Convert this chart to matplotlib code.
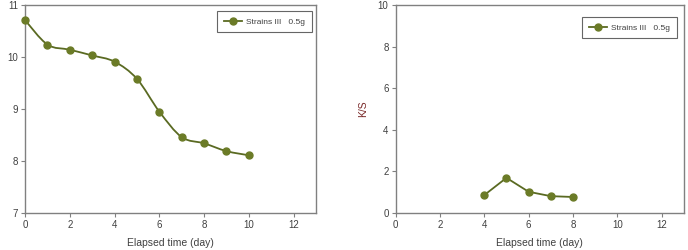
import numpy as np
import matplotlib
matplotlib.use("Agg")
import matplotlib.pyplot as plt
from matplotlib.path import Path
from matplotlib.patches import PathPatch
from matplotlib.lines import Line2D

# Data
days_left = [0, 1, 2, 3, 4, 5, 6, 7, 8, 9, 10]
values_left = [10.71, 10.24, 10.14, 10.03, 9.91, 9.58, 8.95, 8.46, 8.34, 8.19, 8.11]
days_right = [4, 5, 6, 7, 8]
values_right = [0.86, 1.69, 1.02, 0.81, 0.77]
series_label = "Strains III   0.5g"
x_ticks = [0, 2, 4, 6, 8, 10, 12]
left_yticks = [7, 8, 9, 10, 11]
right_yticks = [0, 2, 4, 6, 8, 10]
xlabel = "Elapsed time (day)"
right_ylabel = "K/S"

marker_col = "#6b7b27"
line_col = "#5a6a22"
spine_col = "#808080"
text_col = "#404040"

plt.rcParams['font.family'] = ['Liberation Sans', 'DejaVu Sans']

fig = plt.figure(figsize=(6.88, 2.5), dpi=100)
axL = fig.add_axes([25/688, 1-213/250, (316-25)/688, 208/250])
axR = fig.add_axes([395.5/688, 1-213/250, (684-395.5)/688, 208/250])


def smooth_path(xs, ys, t=0.5):
    xs = np.asarray(xs, float); ys = np.asarray(ys, float)
    n = len(xs)
    verts = [(xs[0], ys[0])]
    codes = [Path.MOVETO]
    for i in range(n - 1):
        p0 = np.array([xs[max(i-1, 0)], ys[max(i-1, 0)]])
        p1 = np.array([xs[i], ys[i]])
        p2 = np.array([xs[i+1], ys[i+1]])
        p3 = np.array([xs[min(i+2, n-1)], ys[min(i+2, n-1)]])
        c1 = p1 + (p2 - p0) * t / 3
        c2 = p2 - (p3 - p1) * t / 3
        verts += [tuple(c1), tuple(c2), tuple(p2)]
        codes += [Path.CURVE4] * 3
    return Path(verts, codes)


def style(ax, yticks, ylim):
    ax.set_xlim(0, 13)
    ax.set_ylim(*ylim)
    ax.set_xticks(x_ticks)
    ax.set_yticks(yticks)
    for s in ax.spines.values():
        s.set_color(spine_col)
        s.set_linewidth(1.0)
    ax.tick_params(direction='out', length=3, width=0.8, color=spine_col,
                   labelsize=7, labelcolor=text_col, pad=2)
    ax.set_xlabel(xlabel, fontsize=7.5, color=text_col, labelpad=6)


def add_legend(ax, handle, anchor):
    leg = ax.legend([handle], [series_label], loc='upper right', fontsize=6,
                    frameon=True, fancybox=False, edgecolor='#404040',
                    borderpad=0.8, handlelength=2.2, handletextpad=0.5,
                    borderaxespad=0, bbox_to_anchor=anchor)
    leg.get_frame().set_linewidth(0.8)
    for t in leg.get_texts():
        t.set_color(text_col)
    return leg


handle = Line2D([], [], color=line_col, lw=1.3, marker='o', ms=5,
                mfc=marker_col, mec=marker_col)

# Left plot
style(axL, left_yticks, (7, 11))
axL.add_patch(PathPatch(smooth_path(days_left, values_left), facecolor='none',
                        edgecolor=line_col, lw=1.3, clip_on=False, zorder=2))
axL.plot(days_left, values_left, ls='none', marker='o', ms=5,
         mfc=marker_col, mec=marker_col, clip_on=False, zorder=3)
add_legend(axL, handle, (0.986, 0.971))

# Right plot
style(axR, right_yticks, (0, 10))
axR.plot(days_right, values_right, color=line_col, lw=1.3, marker='o', ms=5,
         mfc=marker_col, mec=marker_col, clip_on=False)
axR.set_ylabel(right_ylabel, fontsize=7.5, color="#7a2a2a", labelpad=7)
add_legend(axR, handle, (0.976, 0.942))

fig.savefig("out.png", dpi=100)
